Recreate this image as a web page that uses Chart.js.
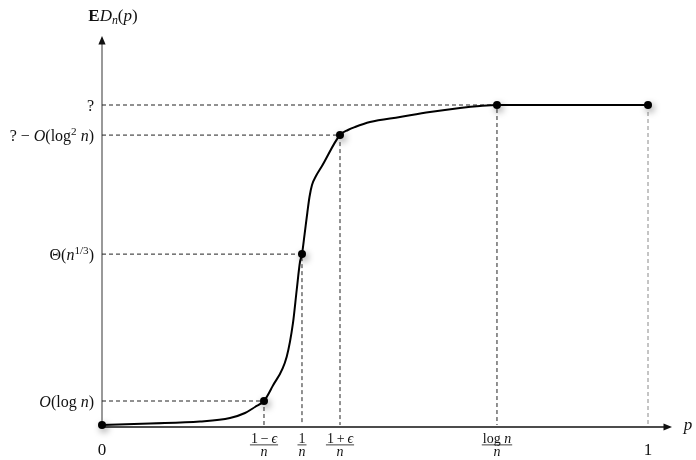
<!DOCTYPE html>
<html>
<head>
<meta charset="utf-8">
<script src="https://cdn.jsdelivr.net/npm/chart.js@4.4.0/dist/chart.umd.min.js"></script>
<style>
html,body{margin:0;padding:0;background:#fff;}
#wrap{width:696px;height:460px;}
</style>
</head>
<body>
<div id="wrap"><canvas id="c" width="696" height="460"></canvas></div>
<script>
// ---- data (x in units where p = 1 at the right marker, y where "?" = 1)
const xKeys   = [0, 0.2967, 0.3663, 0.4359, 0.7234, 1];
const xLabels = ['0', '1\u2009\u2212\u2009\u03F5|n', '1|n', '1\u2009+\u2009\u03F5|n', 'log n|n', '1'];
const yKeys   = [0.075, 0.534, 0.906, 1];
const yLabels = ['O(log n)', '\u0398(n^{1/3})', '? \u2212 O(log^{2} n)', '?'];
const markerX = [0, 0.2967, 0.3663, 0.4359, 0.7234, 1];
const markerY = [0, 0.075, 0.534, 0.906, 1, 1];
const curveX = [0, 0.0879, 0.1795, 0.2344, 0.2619, 0.2802, 0.2967, 0.3120, 0.3383, 0.3498, 0.3566, 0.3626, 0.3663,
                0.3709, 0.3760, 0.3800, 0.3846, 0.3919, 0.4029, 0.4359, 0.4505, 0.4634, 0.4908, 0.5458, 0.6007,
                0.6557, 0.6923, 0.7234, 1];
const curveY = [0, 0.0047, 0.0109, 0.0219, 0.0375, 0.0563, 0.075, 0.1200, 0.2134, 0.3188, 0.4219, 0.5094, 0.534,
                0.5938, 0.6625, 0.7125, 0.7500, 0.7781, 0.8094, 0.9063, 0.9219, 0.9313, 0.9469, 0.9625, 0.9781,
                0.9906, 0.9969, 1, 1];
const xAxisEnd = 1.044;
const yAxisEnd = 1.216;
const yTitle = '**E**D_{n}(p)';
const xTitle = 'p';

// ---- build datasets
const curve = curveX.map((x, i) => ({x, y: curveY[i]}));
const markers = markerX.map((x, i) => ({x, y: markerY[i]}));
const guides = [];
for (let i = 1; i < markerX.length; i++) {
  const x = markerX[i], y = markerY[i];
  const last = i === markerX.length - 1;
  const pts = last ? [{x, y}, {x, y: 0}] : [{x: 0, y}, {x, y}, {x, y: 0}];
  guides.push({
    type: 'line', data: pts, borderColor: last ? '#8a8a8a' : '#222', borderWidth: 1,
    borderDash: [4, 3], pointRadius: 0, tension: 0, clip: false, order: 3
  });
}

const SERIF = '"Liberation Serif", "DejaVu Serif", serif';

function parseRich(s, size, dy) {
  const runs = [];
  let i = 0;
  const push = (t, style, sz, d) => {
    const l = runs[runs.length - 1];
    if (l && l.style === style && l.size === sz && l.dy === d) l.t += t;
    else runs.push({t, style, size: sz, dy: d});
  };
  while (i < s.length) {
    if (s.startsWith('**', i)) {
      const j = s.indexOf('**', i + 2);
      push(s.slice(i + 2, j), 'bold', size, dy); i = j + 2; continue;
    }
    if ((s[i] === '^' || s[i] === '_') && s[i + 1] === '{') {
      const j = s.indexOf('}', i);
      const inner = s.slice(i + 2, j);
      const nd = dy + (s[i] === '^' ? -size * 0.4 : size * 0.22);
      parseRich(inner, size * 0.7, nd).forEach(r => runs.push(r));
      i = j + 1; continue;
    }
    if (s.startsWith('log', i)) { push('log', 'normal', size, dy); i += 3; continue; }
    const c = s[i];
    if (/[A-Za-z\u03F5\u03B5]/.test(c)) push(c, 'italic', size, dy);
    else push(c, 'normal', size, dy);
    i++;
  }
  return runs;
}
function fontOf(r) {
  const st = r.style === 'italic' ? 'italic ' : (r.style === 'bold' ? 'bold ' : '');
  return st + r.size.toFixed(2) + 'px ' + SERIF;
}
function richWidth(ctx, runs) {
  let w = 0;
  runs.forEach(r => { ctx.font = fontOf(r); w += ctx.measureText(r.t).width; });
  return w;
}
// yc = visual centre of cap height
function drawRich(ctx, s, x, yc, align, size) {
  const runs = parseRich(s, size, 0);
  const w = richWidth(ctx, runs);
  let cx = align === 'right' ? x - w : (align === 'center' ? x - w / 2 : x);
  const base = yc + size * 0.33;
  ctx.textBaseline = 'alphabetic';
  ctx.textAlign = 'left';
  runs.forEach(r => {
    ctx.font = fontOf(r);
    ctx.fillText(r.t, cx, base + r.dy);
    cx += ctx.measureText(r.t).width;
  });
  return w;
}

const axesPlugin = {
  id: 'axesPlugin',
  beforeDatasetsDraw(chart) {
    const {ctx, scales: {x, y}} = chart;
    const x0 = x.getPixelForValue(0), y0 = y.getPixelForValue(0);
    const xe = x.getPixelForValue(xAxisEnd), ye = y.getPixelForValue(yAxisEnd);
    ctx.save();
    // y axis
    ctx.strokeStyle = '#555'; ctx.fillStyle = '#111'; ctx.lineWidth = 1.2;
    ctx.beginPath(); ctx.moveTo(x0, y0 + 2); ctx.lineTo(x0, ye + 6); ctx.stroke();
    ctx.beginPath(); ctx.moveTo(x0, ye); ctx.lineTo(x0 - 3.6, ye + 8.5); ctx.lineTo(x0 + 3.6, ye + 8.5); ctx.closePath(); ctx.fill();
    // x axis
    const ya = y0 + 2;
    ctx.strokeStyle = '#111'; ctx.lineWidth = 1.4;
    ctx.beginPath(); ctx.moveTo(x0, ya); ctx.lineTo(xe - 6, ya); ctx.stroke();
    ctx.beginPath(); ctx.moveTo(xe, ya); ctx.lineTo(xe - 8.5, ya - 3.6); ctx.lineTo(xe - 8.5, ya + 3.6); ctx.closePath(); ctx.fill();
    ctx.restore();
  },
  beforeDatasetDraw(chart, args) {
    if (chart.data.datasets[args.index].isMarkers) {
      const ctx = chart.ctx;
      ctx.save();
      ctx.shadowColor = 'rgba(0,0,0,0.4)';
      ctx.shadowBlur = 7;
      ctx.shadowOffsetX = 2;
      ctx.shadowOffsetY = 3;
    }
  },
  afterDatasetDraw(chart, args) {
    if (chart.data.datasets[args.index].isMarkers) chart.ctx.restore();
  },
  afterDraw(chart) {
    const {ctx, scales: {x, y}} = chart;
    const x0 = x.getPixelForValue(0), y0 = y.getPixelForValue(0);
    ctx.save();
    ctx.fillStyle = '#111';
    // y labels
    yKeys.forEach((v, i) => drawRich(ctx, yLabels[i], x0 - 8, y.getPixelForValue(v) + 1, 'right', 16));
    // x labels
    xKeys.forEach((v, i) => {
      const px = x.getPixelForValue(v);
      const lab = xLabels[i];
      if (lab.includes('|')) {
        const [num, den] = lab.split('|');
        const fs = 14;
        const wn = richWidth(ctx, parseRich(num, fs, 0));
        const wd = richWidth(ctx, parseRich(den, fs, 0));
        drawRich(ctx, num, px, y0 + 13, 'center', fs);
        const bw = Math.max(wn, wd) + 2;
        ctx.fillRect(px - bw / 2, y0 + 19.5, bw, 0.8);
        drawRich(ctx, den, px, y0 + 26, 'center', fs);
      } else {
        drawRich(ctx, lab, px, y0 + 24, 'center', 17);
      }
    });
    // axis titles
    drawRich(ctx, yTitle, x0 + 11, 15, 'center', 17);
    drawRich(ctx, xTitle, x.getPixelForValue(xAxisEnd) + 16, y0 - 1, 'center', 17);
    ctx.restore();
  }
};

new Chart(document.getElementById('c'), {
  type: 'line',
  data: {
    datasets: [
      {type: 'line', data: curve, borderColor: '#000', borderWidth: 2, pointRadius: 0,
       cubicInterpolationMode: 'monotone', clip: false, order: 2},
      {type: 'scatter', data: markers, isMarkers: true, showLine: false, pointRadius: 4,
       pointBackgroundColor: '#000', pointBorderColor: '#000', pointBorderWidth: 0, clip: false, order: 1},
      ...guides
    ]
  },
  options: {
    responsive: false,
    animation: false,
    events: [],
    layout: {padding: {left: 102, right: 48, top: 105, bottom: 35}},
    plugins: {legend: {display: false}, tooltip: {enabled: false}, title: {display: false}},
    scales: {
      x: {type: 'linear', min: 0, max: 1, display: false},
      y: {type: 'linear', min: 0, max: 1, display: false}
    }
  },
  plugins: [axesPlugin]
});
</script>
</body>
</html>
